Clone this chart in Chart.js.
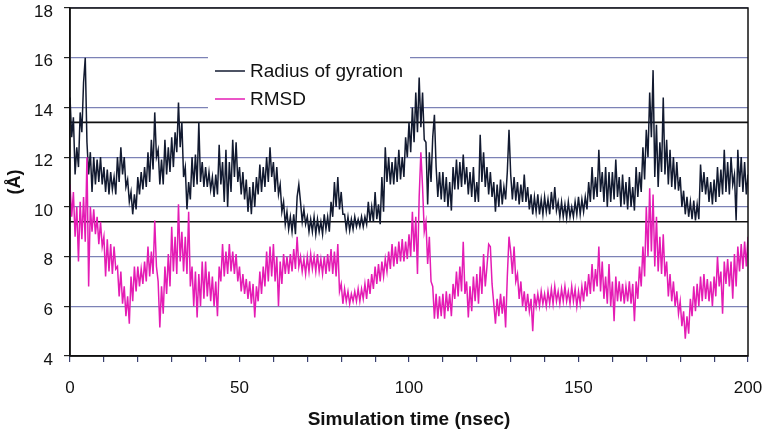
<!DOCTYPE html>
<html>
<head>
<meta charset="utf-8">
<script src="https://cdn.jsdelivr.net/npm/chart.js@4.4.1/dist/chart.umd.min.js"></script>
<style>
  body { margin: 0; background: #fff; }
  #grafico { display: block; }
</style>
</head>
<body>
<canvas id="grafico" width="773" height="432"></canvas>
<script>
// tiempo de simulacion (nsec), muestreo cada 0.5
const tiempo = Array.from({ length: 401 }, (_, i) => i * 0.5);

// radio de giro (A)
const radioGiro = [
  14.4, 12.8, 13.6, 11.3, 12.4, 11.6, 13.8, 13.0, 15.0, 16.0, 12.6, 11.3, 12.2, 10.6, 12.0, 10.9, 11.9, 11.0, 12.0, 10.9,
  11.6, 10.6, 11.5, 10.5, 11.4, 10.7, 11.2, 10.5, 12.0, 11.0, 12.4, 11.3, 12.0, 10.8, 11.1, 10.2, 10.6, 9.7, 10.5, 9.9,
  11.2, 10.5, 11.4, 10.7, 11.6, 10.8, 12.2, 11.0, 12.7, 11.5, 13.8, 12.0, 12.3, 10.9, 11.9, 10.9, 12.7, 11.3, 12.4, 11.4,
  12.8, 11.6, 13.0, 12.2, 14.2, 12.4, 13.4, 11.2, 11.6, 9.9, 11.0, 10.3, 12.0, 10.8, 12.1, 10.9, 13.4, 11.0, 11.8, 10.8,
  11.6, 10.8, 11.4, 10.7, 11.2, 10.4, 11.3, 10.5, 12.5, 10.9, 11.8, 10.2, 12.3, 10.0, 11.8, 10.6, 12.7, 11.2, 12.6, 11.0,
  11.6, 10.5, 11.4, 10.3, 11.1, 9.8, 10.8, 9.7, 11.0, 10.0, 11.2, 10.5, 11.7, 10.6, 11.6, 10.8, 12.0, 11.0, 12.4, 11.2,
  11.8, 10.6, 11.6, 10.5, 10.9, 9.8, 10.2, 9.3, 9.8, 9.1, 9.6, 9.0, 9.7, 8.9, 10.4, 10.9, 10.2, 9.4, 9.9, 9.3,
  9.6, 9.0, 9.5, 9.0, 9.6, 8.9, 9.5, 9.0, 9.4, 8.9, 9.7, 9.1, 9.6, 9.0, 10.2, 9.6, 11.0, 10.0, 11.2, 9.9,
  10.6, 9.7, 9.7, 9.1, 9.6, 9.05, 9.5, 9.1, 9.6, 9.2, 9.5, 9.2, 9.6, 9.2, 9.6, 9.3, 10.2, 9.4, 10.0, 9.4,
  10.6, 9.5, 10.1, 9.3, 11.2, 9.8, 12.4, 11.0, 12.0, 10.9, 11.8, 10.9, 12.0, 11.0, 12.3, 11.1, 12.0, 11.2, 12.8, 12.0,
  13.4, 12.2, 14.0, 12.6, 14.6, 13.0, 15.2, 13.2, 14.6, 12.7, 12.6, 10.1, 12.2, 11.0, 12.8, 13.7, 11.6, 10.4, 11.4, 10.3,
  11.4, 10.2, 11.2, 10.0, 11.0, 9.85, 11.6, 10.7, 11.9, 10.7, 11.8, 10.8, 12.1, 10.9, 11.6, 10.5, 11.4, 10.4, 11.6, 10.2,
  11.0, 10.2, 12.9, 11.0, 12.2, 10.8, 11.6, 10.5, 11.4, 10.4, 11.0, 9.8, 10.9, 10.0, 11.1, 10.1, 10.8, 10.3, 11.4, 13.1,
  11.3, 10.3, 11.2, 10.25, 11.0, 10.1, 10.9, 10.2, 11.3, 10.2, 10.8, 9.9, 10.5, 9.7, 10.4, 9.8, 10.5, 9.7, 10.3, 9.7,
  10.4, 9.8, 10.3, 9.7, 10.6, 9.9, 10.8, 9.85, 10.2, 9.6, 10.2, 9.6, 10.1, 9.55, 10.2, 9.6, 10.0, 9.6, 10.2, 9.7,
  10.4, 9.7, 10.3, 9.8, 10.4, 9.9, 11.0, 10.2, 11.6, 10.3, 11.2, 10.4, 12.3, 10.6, 11.4, 10.2, 11.6, 10.0, 11.4, 10.2,
  11.4, 10.3, 11.9, 10.4, 11.2, 10.0, 11.3, 10.1, 11.0, 9.9, 11.2, 10.0, 10.8, 9.85, 11.6, 10.4, 11.4, 10.6, 12.4, 11.1,
  13.1, 12.0, 14.6, 12.8, 15.5, 11.2, 13.3, 10.8, 12.6, 11.4, 14.4, 11.3, 12.7, 10.9, 12.3, 10.8, 12.0, 10.7, 11.8, 10.65,
  11.2, 10.0, 10.65, 9.7, 10.4, 9.6, 10.2, 9.5, 10.25, 9.45, 10.1, 9.5, 11.7, 10.6, 11.4, 10.5, 11.2, 10.2, 11.0, 10.1,
  11.1, 10.2, 11.6, 10.4, 11.5, 10.5, 12.3, 10.6, 11.8, 10.5, 12.0, 10.9, 11.3, 9.45, 12.3, 10.8, 12.0, 10.6, 11.8, 10.5,
  11.3
];

// RMSD (A)
const rmsd = [
  10.9, 9.6, 10.6, 8.8, 10.0, 7.8, 10.2, 8.7, 10.4, 8.6, 12.0, 6.8, 10.0, 9.0, 9.9, 8.9, 9.6, 8.5, 9.4, 8.4,
  8.8, 7.2, 8.7, 7.4, 8.5, 7.3, 8.4, 7.5, 7.6, 6.4, 7.4, 6.1, 6.8, 5.6, 6.4, 5.3, 7.2, 6.2, 7.6, 6.6,
  7.6, 6.8, 7.5, 6.9, 7.8, 7.0, 8.4, 7.2, 8.2, 7.3, 9.45, 7.6, 7.0, 5.15, 6.8, 5.7, 7.6, 6.5, 8.1, 6.8,
  9.2, 7.4, 8.8, 7.3, 10.1, 7.8, 9.0, 7.4, 8.8, 7.3, 9.8, 6.8, 7.6, 6.0, 7.4, 5.55, 7.3, 6.0, 7.8, 6.3,
  7.8, 6.4, 7.4, 6.2, 7.2, 6.0, 7.0, 5.6, 7.6, 7.0, 8.5, 7.2, 8.2, 7.3, 8.5, 7.4, 8.2, 7.3, 8.1, 7.0,
  7.6, 6.6, 7.3, 6.5, 7.1, 6.3, 7.0, 6.1, 6.9, 5.55, 6.8, 6.2, 7.4, 6.5, 7.6, 6.8, 8.2, 7.0, 8.4, 7.2,
  8.5, 7.0, 8.0, 6.0, 7.8, 6.9, 8.1, 7.3, 8.0, 7.3, 8.1, 7.4, 8.3, 7.5, 8.8, 7.6, 8.0, 7.4, 7.9, 7.3,
  8.0, 7.4, 8.1, 7.5, 8.0, 7.4, 8.1, 7.4, 7.9, 7.3, 8.0, 7.3, 8.1, 7.4, 8.3, 7.3, 8.2, 7.2, 8.5, 6.6,
  6.9, 6.1, 6.7, 6.2, 6.6, 6.1, 6.5, 6.2, 6.6, 6.2, 6.7, 6.2, 6.7, 6.3, 6.9, 6.3, 7.1, 6.5, 7.3, 6.7,
  7.6, 6.9, 7.7, 7.0, 7.8, 7.2, 7.9, 7.4, 8.2, 7.5, 8.5, 7.6, 8.4, 7.7, 8.6, 7.8, 8.7, 7.8, 8.6, 7.9,
  8.9, 8.0, 9.8, 8.2, 9.6, 7.3, 10.4, 12.2, 10.8, 9.0, 9.4, 7.7, 8.8, 7.0, 6.8, 5.5, 6.5, 5.5, 6.4, 5.6,
  6.5, 5.5, 6.6, 5.8, 6.5, 5.6, 6.9, 6.3, 7.4, 6.4, 7.6, 6.6, 8.6, 6.5, 7.0, 5.55, 6.8, 5.8, 7.2, 6.2,
  7.3, 6.1, 7.6, 6.5, 8.1, 6.8, 7.6, 8.5, 8.4, 6.9, 6.1, 5.3, 6.3, 5.6, 6.5, 5.7, 6.4, 5.15, 7.2, 8.8,
  8.2, 7.3, 8.4, 7.0, 7.3, 6.3, 7.0, 6.0, 6.6, 5.8, 6.5, 5.8, 6.3, 5.0, 6.5, 6.0, 6.5, 6.0, 6.6, 6.1,
  6.5, 6.0, 6.6, 6.1, 6.7, 6.1, 6.8, 6.2, 6.6, 6.1, 6.7, 6.2, 6.8, 6.2, 6.6, 6.1, 6.8, 6.2, 6.7, 6.0,
  6.6, 6.1, 6.8, 6.2, 7.0, 6.4, 7.3, 6.5, 7.7, 6.6, 7.5, 6.8, 8.4, 6.6, 7.8, 6.3, 7.2, 6.1, 7.7, 6.0,
  7.0, 5.4, 7.2, 6.2, 7.0, 6.2, 6.9, 6.1, 6.8, 6.2, 7.0, 6.1, 6.9, 5.4, 7.0, 6.3, 7.6, 6.8, 8.4, 7.2,
  10.0, 8.0, 10.75, 8.2, 10.5, 7.6, 9.6, 7.4, 8.8, 7.3, 8.9, 7.2, 7.8, 6.4, 7.3, 6.2, 7.0, 6.0, 6.6, 5.7,
  6.2, 5.2, 5.8, 4.7, 5.6, 4.9, 6.3, 5.6, 6.8, 5.8, 6.9, 6.0, 7.2, 6.2, 7.3, 6.3, 7.1, 6.2, 7.0, 6.0,
  7.2, 6.4, 8.0, 6.8, 7.4, 5.7, 7.8, 6.9, 7.9, 6.8, 7.8, 6.3, 8.1, 6.8, 8.4, 7.4, 8.5, 7.5, 8.6, 7.6,
  8.8
];

// lineas horizontales negras de referencia
const lineasRef = [13.4, 9.4];
const etiquetasX = [0, 50, 100, 150, 200];
const nombresSeries = ['Radius of gyration', 'RMSD'];
const coloresSeries = ['#121a30', '#e41cb4'];

function puntos(valores) {
  return valores.map((v, i) => ({ x: tiempo[i], y: v }));
}

function lineaHorizontal(valor) {
  return {
    data: [{ x: 0, y: valor }, { x: 200, y: valor }],
    borderColor: '#111',
    borderWidth: 1.6,
    pointRadius: 0,
    order: 3,
  };
}

// hueco blanco con la leyenda + marco del area
const leyendaPlugin = {
  id: 'leyenda',
  beforeDatasetsDraw(chart) {
    const { ctx, scales } = chart;
    const x0 = scales.x.getPixelForValue(40.7);
    const x1 = scales.x.getPixelForValue(100.3);
    const y0 = scales.y.getPixelForValue(16.6);
    const y1 = scales.y.getPixelForValue(13.6);
    ctx.save();
    ctx.fillStyle = '#fff';
    ctx.fillRect(x0, y0, x1 - x0, y1 - y0);

    ctx.font = '19px "Liberation Sans", Arial, sans-serif';
    ctx.textBaseline = 'middle';
    nombresSeries.forEach((nombre, i) => {
      const yy = 71 + i * 28;
      ctx.strokeStyle = coloresSeries[i];
      ctx.lineWidth = 1.5;
      ctx.beginPath();
      ctx.moveTo(x0 + 7, yy);
      ctx.lineTo(x0 + 37, yy);
      ctx.stroke();
      ctx.fillStyle = '#111';
      ctx.fillText(nombre, x0 + 42, yy + 1);
    });
    ctx.restore();
  },
  afterDatasetsDraw(chart) {
    const { ctx, chartArea } = chart;
    ctx.save();
    ctx.strokeStyle = '#111';
    ctx.lineWidth = 1.5;
    ctx.strokeRect(chartArea.left, chartArea.top, chartArea.right - chartArea.left, chartArea.bottom - chartArea.top);
    ctx.restore();
  },
};

Chart.defaults.font.family = '"Liberation Sans", Arial, sans-serif';
Chart.defaults.color = '#111';

new Chart(document.getElementById('grafico'), {
  type: 'line',
  data: {
    datasets: [
      lineaHorizontal(lineasRef[0]),
      lineaHorizontal(lineasRef[1]),
      {
        label: nombresSeries[0],
        data: puntos(radioGiro),
        borderColor: coloresSeries[0],
        borderWidth: 1.5,
        pointRadius: 0,
        order: 2,
      },
      {
        label: nombresSeries[1],
        data: puntos(rmsd),
        borderColor: coloresSeries[1],
        borderWidth: 1.5,
        pointRadius: 0,
        order: 1,
      },
    ],
  },
  options: {
    responsive: false,
    animation: false,
    layout: { padding: { left: 0, right: 25, top: 8, bottom: 0 } },
    plugins: {
      legend: { display: false },
      tooltip: { enabled: false },
    },
    scales: {
      x: {
        type: 'linear',
        min: 0,
        max: 200,
        ticks: {
          stepSize: 10,
          autoSkip: false,
          maxRotation: 0,
          padding: 16,
          font: { size: 17 },
          callback: (v) => (etiquetasX.includes(v) ? String(v) : ''),
        },
        grid: { drawOnChartArea: false, tickLength: 6, tickColor: '#3a4070', lineWidth: 1.2 },
        border: { color: '#111', width: 1.5 },
        title: {
          display: true,
          text: 'Simulation time (nsec)',
          font: { size: 19, weight: 'bold' },
          padding: { top: 4, bottom: 1 },
        },
        afterFit: (s) => { s.height = 76; s.paddingLeft = 0; s.paddingRight = 0; },
      },
      y: {
        min: 4,
        max: 18,
        ticks: { stepSize: 2, padding: 11, labelOffset: 4, font: { size: 17 } },
        grid: { color: '#7c82b6', lineWidth: 1.2, tickLength: 6, tickColor: '#222' },
        border: { color: '#111', width: 1.5 },
        title: {
          display: true,
          text: '(Å)',
          font: { size: 18, weight: 'bold' },
          padding: { top: 4, bottom: 4 },
        },
        afterFit: (s) => { s.width = 70; s.paddingTop = 0; s.paddingBottom = 0; },
      },
    },
  },
  plugins: [leyendaPlugin],
});
</script>
</body>
</html>
